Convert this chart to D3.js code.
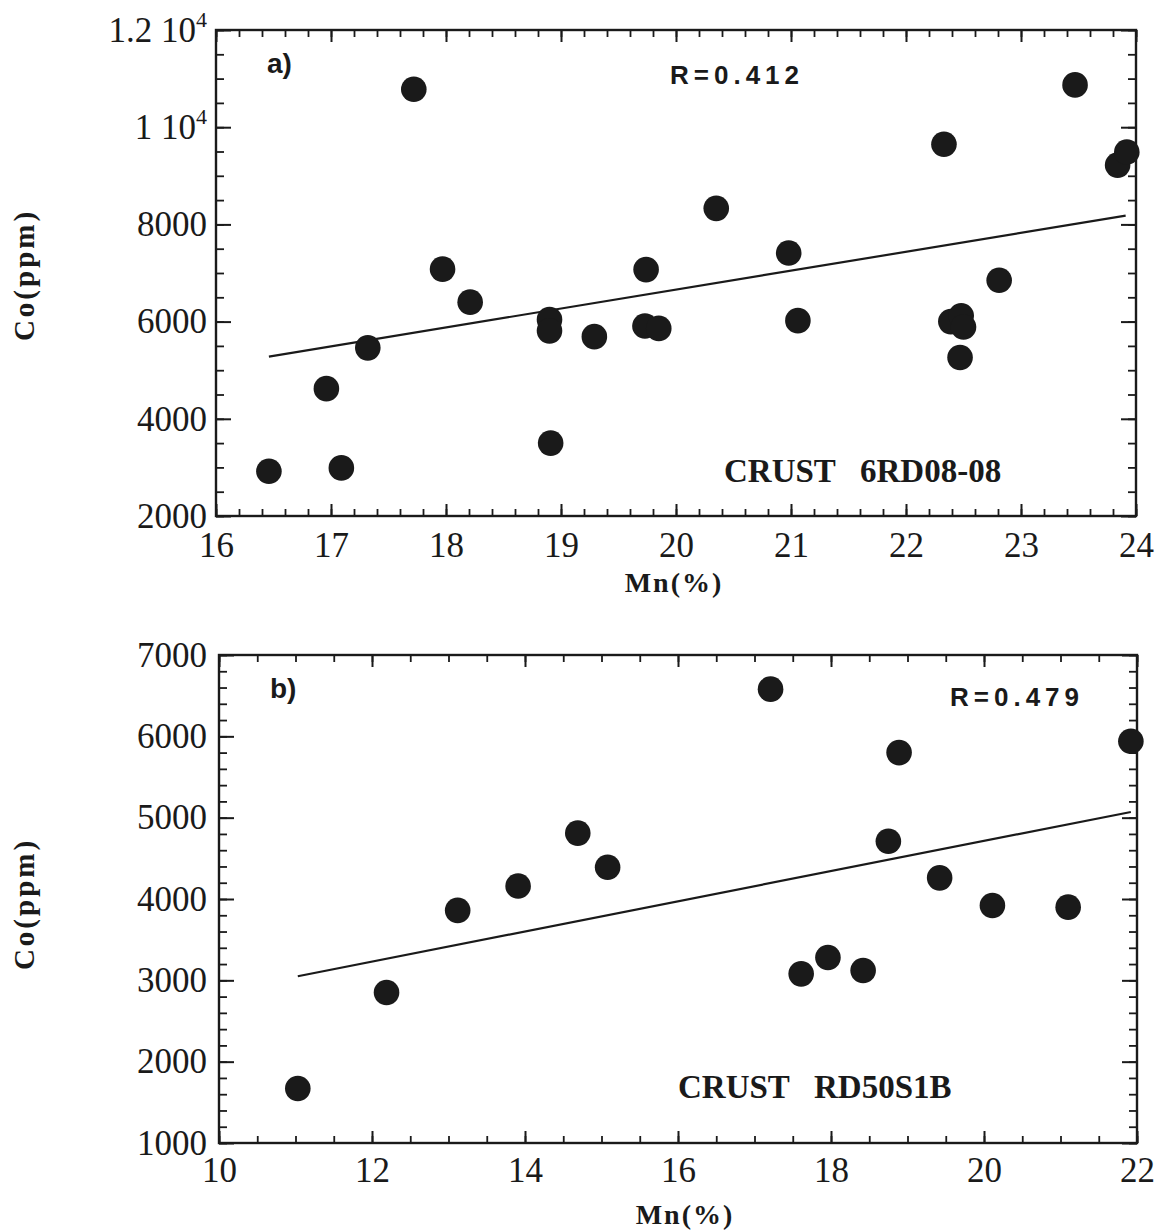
<!DOCTYPE html>
<meta charset="utf-8">
<script src="https://d3js.org/d3.v7.min.js"></script>
<style>
  body { margin: 0; background: #fff; }
  text { fill: #1a1a1a; }
</style>
<div id="chart"></div>
<script>

// panel a) crust 6RD08-08
var mnA = [16.46, 16.96, 17.09, 17.32, 17.72, 17.97, 18.21, 18.90, 18.90, 18.91, 19.29, 19.73, 19.74,
           19.85, 20.35, 20.98, 21.06, 22.33, 22.39, 22.48, 22.50, 22.47, 22.81, 23.47, 23.84, 23.92];
var coA = [2920, 4620, 2990, 5460, 10780, 7080, 6400, 6040, 5810, 3500, 5690, 5910, 7070,
           5860, 8330, 7410, 6020, 9650, 6000, 6120, 5890, 5260, 6850, 10870, 9220, 9490];
var fitMnA = [16.46, 23.91];
var fitCoA = [5280, 8180];
var xTicksA = [16, 17, 18, 19, 20, 21, 22, 23, 24];
var yTicksA = [2000, 4000, 6000, 8000, 10000, 12000];

// panel b) crust RD50S1B
var mnB = [11.03, 12.19, 13.12, 13.91, 14.69, 15.08, 17.21, 17.61, 17.96, 18.42, 18.75, 18.89, 19.42, 20.11, 21.10, 21.92];
var coB = [1670, 2850, 3860, 4160, 4810, 4390, 6580, 3080, 3280, 3120, 4710, 5800, 4260, 3920, 3900, 5940];
var fitMnB = [11.03, 21.92];
var fitCoB = [3050, 5070];
var xTicksB = [10, 12, 14, 16, 18, 20, 22];
var yTicksB = [1000, 2000, 3000, 4000, 5000, 6000, 7000];

var serif = "'Liberation Serif', 'Times New Roman', serif";
var sans = "'Liberation Sans', Arial, sans-serif";

var svg = d3.select("#chart").append("svg")
    .attr("width", 1158)
    .attr("height", 1230);

function panel(opt) {
  var x = d3.scaleLinear().domain(opt.xDomain).range([opt.left, opt.right]);
  var y = d3.scaleLinear().domain(opt.yDomain).range([opt.bottom, opt.top]);
  var g = svg.append("g");

  var xMinor = d3.range(opt.xDomain[0], opt.xDomain[1] + 1e-9, opt.xMinor);
  var yMinor = d3.range(opt.yDomain[0], opt.yDomain[1] + 1e-9, opt.yMinor);

  // minor ticks on all four sides, pointing inward
  var minorAxes = [
    [d3.axisBottom(x).tickValues(xMinor), "translate(0," + opt.bottom + ")", 7],
    [d3.axisTop(x).tickValues(xMinor), "translate(0," + opt.top + ")", 7],
    [d3.axisLeft(y).tickValues(yMinor), "translate(" + opt.left + ",0)", 8],
    [d3.axisRight(y).tickValues(yMinor), "translate(" + opt.right + ",0)", 8]
  ];
  minorAxes.forEach(function(a) {
    var ag = g.append("g").attr("transform", a[1])
      .call(a[0].tickSizeInner(-a[2]).tickSizeOuter(0).tickFormat(""));
    ag.select(".domain").remove();
    ag.selectAll("text").remove();
    ag.selectAll("line").attr("stroke", "#1a1a1a").attr("stroke-width", 1.8);
  });

  // major ticks
  var majorAxes = [
    [d3.axisBottom(x).tickValues(opt.xTicks), "translate(0," + opt.bottom + ")", 12, true],
    [d3.axisTop(x).tickValues(opt.xTicks), "translate(0," + opt.top + ")", 12, false],
    [d3.axisLeft(y).tickValues(opt.yTicks), "translate(" + opt.left + ",0)", 15, true],
    [d3.axisRight(y).tickValues(opt.yTicks), "translate(" + opt.right + ",0)", 15, false]
  ];
  majorAxes.forEach(function(a, i) {
    var ax = a[0].tickSizeInner(-a[2]).tickSizeOuter(0);
    if (a[3]) ax.tickPadding(i === 0 ? opt.xPad : opt.yPad).tickFormat(d3.format("d"));
    else ax.tickFormat("");
    var ag = g.append("g").attr("transform", a[1]).call(ax);
    ag.select(".domain").remove();
    ag.selectAll("line").attr("stroke", "#1a1a1a").attr("stroke-width", 2);
    if (!a[3]) { ag.selectAll("text").remove(); return; }
    ag.selectAll("text")
      .attr("font-family", serif)
      .attr("font-size", 35)
      .attr("fill", "#1a1a1a");
    // y labels like "1.2 10^4"
    if (i === 2) {
      ag.selectAll("text").filter(function(d) { return d >= 10000; })
        .each(function(d) {
          var t = d3.select(this).text("");
          t.append("tspan").text((d / 10000) + " 10");
          t.append("tspan").attr("dy", -15).attr("font-size", 22).text("4");
        });
    }
  });

  // frame
  g.append("rect")
    .attr("x", opt.left).attr("y", opt.top)
    .attr("width", opt.right - opt.left).attr("height", opt.bottom - opt.top)
    .attr("fill", "none").attr("stroke", "#1a1a1a").attr("stroke-width", 2.4);

  // regression line
  g.append("line")
    .attr("x1", x(opt.fitX[0])).attr("y1", y(opt.fitY[0]))
    .attr("x2", x(opt.fitX[1])).attr("y2", y(opt.fitY[1]))
    .attr("stroke", "#1a1a1a").attr("stroke-width", 2.2);

  // points
  g.selectAll("circle")
    .data(opt.xs.map(function(v, i) { return [v, opt.ys[i]]; }))
    .enter().append("circle")
      .attr("cx", function(d) { return x(d[0]); })
      .attr("cy", function(d) { return y(d[1]); })
      .attr("r", 12.8)
      .attr("fill", "#1a1a1a");

  // panel letter
  g.append("text")
    .attr("x", opt.left + 51).attr("y", opt.top + 43)
    .attr("font-family", sans).attr("font-weight", "bold").attr("font-size", 28)
    .text(opt.letter);

  // correlation
  g.append("text")
    .attr("x", opt.rPos[0]).attr("y", opt.rPos[1])
    .attr("font-family", sans).attr("font-weight", "bold").attr("font-size", 26)
    .attr("letter-spacing", 5)
    .text(opt.rText);

  // sample name
  g.append("text")
    .attr("x", opt.namePos[0]).attr("y", opt.namePos[1])
    .attr("font-family", serif).attr("font-weight", "bold").attr("font-size", 33)
    .style("white-space", "pre")
    .text(opt.name);

  // axis titles
  g.append("text")
    .attr("x", opt.xTitle[0]).attr("y", opt.xTitle[1])
    .attr("text-anchor", "middle")
    .attr("font-family", serif).attr("font-weight", "bold").attr("font-size", 28)
    .attr("letter-spacing", 2)
    .text("Mn(%)");

  g.append("text")
    .attr("transform", "translate(34," + opt.yTitle + ") rotate(-90)")
    .attr("text-anchor", "middle")
    .attr("font-family", serif).attr("font-weight", "bold").attr("font-size", 29)
    .attr("letter-spacing", 3)
    .text("Co(ppm)");
}

panel({
  xs: mnA, ys: coA, fitX: fitMnA, fitY: fitCoA,
  xDomain: [16, 24], yDomain: [2000, 12000],
  xTicks: xTicksA, yTicks: yTicksA, xMinor: 0.2, yMinor: 500,
  left: 216, right: 1136, top: 30, bottom: 516,
  xPad: 16, yPad: 9,
  letter: "a)", rText: "R=0.412", rPos: [670, 84],
  name: "CRUST   6RD08-08", namePos: [724, 482],
  xTitle: [674, 592], yTitle: 275
});

panel({
  xs: mnB, ys: coB, fitX: fitMnB, fitY: fitCoB,
  xDomain: [10, 22], yDomain: [1000, 7000],
  xTicks: xTicksB, yTicks: yTicksB, xMinor: 0.5, yMinor: 200,
  left: 219, right: 1137, top: 655, bottom: 1143,
  xPad: 14, yPad: 12,
  letter: "b)", rText: "R=0.479", rPos: [950, 706],
  name: "CRUST   RD50S1B", namePos: [678, 1098],
  xTitle: [685, 1224], yTitle: 904
});

</script>
